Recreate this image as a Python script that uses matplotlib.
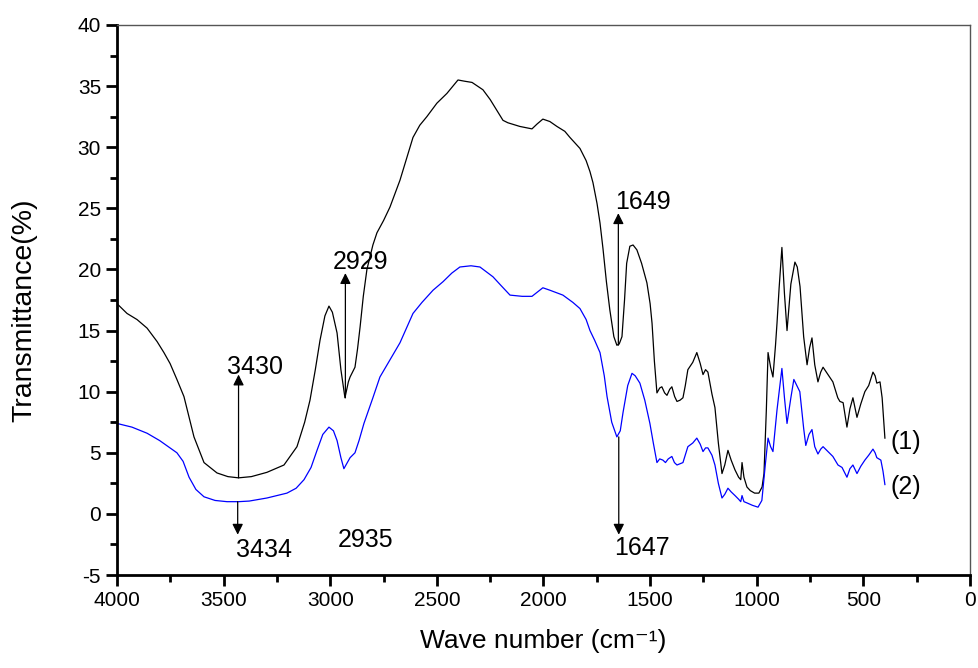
import numpy as np
import matplotlib
matplotlib.use("Agg")
import matplotlib.pyplot as plt
from matplotlib.ticker import MultipleLocator

plt.rcParams['font.family'] = ['Liberation Sans', 'DejaVu Sans']
plt.rcParams['axes.unicode_minus'] = False

# FTIR spectra, sample (1) and sample (2)
wn_1 = [4000, 3953, 3906, 3859, 3812, 3780, 3751, 3719, 3686, 3662, 3639, 3592,
        3531, 3480, 3430, 3370,
        3297, 3217, 3156, 3120, 3095, 3070, 3048, 3025, 3006, 2990, 2968, 2950,
        2931, 2915, 2907, 2884, 2872, 2860, 2845, 2828, 2800, 2781, 2750, 2720,
        2673, 2640, 2612, 2580, 2547, 2500, 2453, 2425, 2401, 2370, 2335, 2284,
        2250, 2218, 2190, 2167, 2111, 2054, 2030, 2003, 1970, 1937, 1900, 1876,
        1829, 1800, 1782, 1768, 1749, 1735, 1721, 1705, 1689, 1670, 1656, 1645,
        1632, 1620, 1610, 1595, 1580, 1562, 1540, 1515, 1500, 1491, 1480, 1468,
        1455, 1445, 1432, 1421, 1408, 1398, 1385, 1374, 1360, 1346, 1335, 1323,
        1300, 1281, 1265, 1252, 1240, 1229, 1210, 1196, 1180, 1163, 1150, 1135,
        1120, 1102, 1085, 1075, 1069, 1060, 1046, 1030, 1010, 990, 975, 966,
        955, 947, 935, 924, 912, 905, 895, 882, 870, 858, 840, 821, 810, 797,
        780, 764, 752, 741, 728, 713, 700, 689, 670, 643, 620, 610, 595, 577,
        563, 549, 530, 512, 493, 475, 455, 445, 437, 422, 412, 399]
t_1 = [17.2, 16.4, 15.9, 15.2, 14.1, 13.2, 12.3, 11.0, 9.6, 7.9, 6.3, 4.2,
       3.35, 3.05, 2.95, 3.05,
       3.4, 4.0, 5.5, 7.5, 9.3, 11.8, 14.2, 16.2, 17.0, 16.5, 14.8, 11.8,
       9.5, 10.8, 11.2, 12.0, 13.5, 15.3, 17.8, 20.0, 22.0, 23.0, 24.0, 25.1,
       27.3, 29.2, 30.8, 31.8, 32.5, 33.6, 34.4, 35.0, 35.5, 35.4, 35.3, 34.7,
       33.9, 33.0, 32.2, 32.0, 31.7, 31.5, 31.9, 32.3, 32.1, 31.7, 31.3, 30.8,
       29.9, 28.9, 28.0, 27.1, 25.4, 23.8, 21.7, 19.0, 16.7, 14.5, 13.8, 13.9,
       14.5, 17.5, 20.5, 21.9, 22.0, 21.6, 20.5, 18.9, 17.2, 15.6, 12.5, 9.9,
       10.3, 10.4, 9.9, 9.7, 10.2, 10.4, 9.6, 9.2, 9.3, 9.5, 10.5, 11.8,
       12.4, 13.2, 12.3, 11.4, 11.8, 11.6, 9.8, 8.7, 5.8, 3.3, 4.0, 5.2,
       4.4, 3.6, 3.0, 2.8, 4.2, 3.0, 2.2, 1.9, 1.7, 1.7, 2.2, 3.3,
       8.5, 13.2, 12.0, 11.2, 13.8, 15.6, 18.5, 21.8, 18.0, 15.0, 18.8, 20.6, 20.2, 18.6,
       14.5, 12.2, 13.6, 14.4, 12.2, 10.8, 11.6, 12.0, 11.5, 10.8, 9.5, 9.2, 9.1, 7.1,
       8.6, 9.5, 7.9, 9.0, 10.0, 10.5, 11.6, 11.3, 10.7, 10.8, 9.5, 6.2]

wn_2 = [4000, 3930, 3859, 3800, 3719, 3690, 3662, 3630, 3592, 3540, 3484, 3430,
        3380, 3297, 3203, 3160, 3123, 3090, 3062, 3035, 3006, 2985, 2968, 2950,
        2936, 2920, 2907, 2884, 2865, 2842, 2800, 2767, 2720, 2673, 2640, 2612,
        2570, 2518, 2471, 2430, 2392, 2340, 2298, 2237, 2200, 2157, 2100, 2054,
        2003, 1970, 1909, 1862, 1829, 1800, 1782, 1760, 1735, 1715, 1702, 1680,
        1656, 1640, 1627, 1605, 1585, 1570, 1548, 1525, 1501, 1485, 1468, 1455,
        1440, 1428, 1415, 1398, 1386, 1374, 1346, 1323, 1300, 1281, 1265, 1252,
        1240, 1229, 1210, 1196, 1180, 1163, 1150, 1135, 1120, 1102, 1085, 1075,
        1069, 1060, 1046, 1020, 994, 976, 960, 947, 935, 924, 905, 882,
        870, 858, 840, 826, 812, 798, 780, 770, 755, 741, 728, 713,
        700, 689, 660, 643, 619, 600, 577, 563, 549, 530, 512, 493,
        475, 455, 445, 437, 418, 408, 399]
t_2 = [7.4, 7.1, 6.6, 6.0, 5.0, 4.3, 3.0, 2.0, 1.4, 1.1, 1.0, 1.0,
       1.05, 1.3, 1.7, 2.1, 2.8, 3.8, 5.2, 6.5, 7.1, 6.8, 6.0, 4.6,
       3.7, 4.2, 4.6, 5.0, 6.0, 7.4, 9.5, 11.2, 12.6, 14.0, 15.3, 16.4,
       17.3, 18.3, 19.0, 19.7, 20.2, 20.3, 20.2, 19.4, 18.7, 17.9, 17.8, 17.8,
       18.5, 18.3, 17.9, 17.3, 16.8, 15.9, 15.0, 14.2, 13.2, 11.3, 9.6, 7.5,
       6.3, 6.8, 8.3, 10.5, 11.5, 11.3, 10.7, 9.3, 7.4, 5.8, 4.2, 4.5,
       4.4, 4.2, 4.5, 4.7, 4.2, 4.0, 4.2, 5.5, 5.8, 6.2, 5.7, 5.1,
       5.4, 5.4, 4.8, 4.0, 2.5, 1.3, 1.6, 2.1, 1.8, 1.5, 1.2, 1.0,
       1.5, 1.0, 0.9, 0.7, 0.55, 1.1, 4.0, 6.2, 5.5, 5.1, 8.5, 11.9,
       9.5, 7.4, 9.5, 11.0, 10.5, 10.0, 7.0, 5.6, 6.5, 6.9, 5.5, 4.9,
       5.3, 5.5, 5.0, 4.7, 4.0, 3.8, 3.0, 3.7, 4.0, 3.3, 3.9, 4.4,
       4.8, 5.3, 5.0, 4.6, 4.4, 3.5, 2.4]

# peak labels: (text, x, y, arrow base y, arrow tip y)
peaks = [
    ("3430", 3430, 12.0, 2.95, 11.4),
    ("2929", 2929, 20.6, 9.5, 19.7),
    ("1649", 1649, 25.5, 13.8, 24.6),
    ("3434", 3434, -2.95, 1.0, -1.7),
    ("1647", 1647, -2.8, 6.3, -1.7),
]
text_x = {"3430": 3485, "2929": 2990, "1649": 1665, "3434": 3442, "1647": 1670}

fig = plt.figure(figsize=(9.79, 6.68), dpi=100)
ax = fig.add_axes([0.1195, 0.1392, 0.8713, 0.8234])

ax.plot(wn_1, t_1, color='black', lw=0.9)
ax.plot(wn_2, t_2, color='#0000ff', lw=0.9)

for label, xp, ty, y0, y1 in peaks:
    ax.annotate('', xy=(xp, y1), xytext=(xp, y0),
                arrowprops=dict(arrowstyle='-|>', color='black', lw=0.9,
                                mutation_scale=16, shrinkA=0, shrinkB=0))
    ax.text(text_x[label], ty, label, fontsize=18, ha='left', va='center')

ax.text(2964, -2.1, "2935", fontsize=18, ha='left', va='center')
ax.text(375, 5.9, "(1)", fontsize=18, ha='left', va='center')
ax.text(375, 2.2, "(2)", fontsize=18, ha='left', va='center')

ax.set_xlim(4000, 0)
ax.set_ylim(-5, 40)
ax.xaxis.set_major_locator(MultipleLocator(500))
ax.xaxis.set_minor_locator(MultipleLocator(250))
ax.yaxis.set_major_locator(MultipleLocator(5))
ax.yaxis.set_minor_locator(MultipleLocator(2.5))
ax.tick_params(which='major', direction='out', length=8, width=2, labelsize=15)
ax.tick_params(which='minor', direction='out', length=5, width=2)
ax.tick_params(top=False, right=False, which='both')

for side in ('left', 'bottom'):
    ax.spines[side].set_linewidth(2)
    ax.spines[side].set_color('black')
for side in ('top', 'right'):
    ax.spines[side].set_linewidth(1)
    ax.spines[side].set_color('#555555')

ax.set_xlabel("Wave number (cm\u207b\u00b9)", fontsize=19, labelpad=14)
ax.set_ylabel("Transmittance(%)", fontsize=20.5)
ax.yaxis.set_label_coords(-0.093, 0.482)

fig.savefig("out.png", dpi=100)
